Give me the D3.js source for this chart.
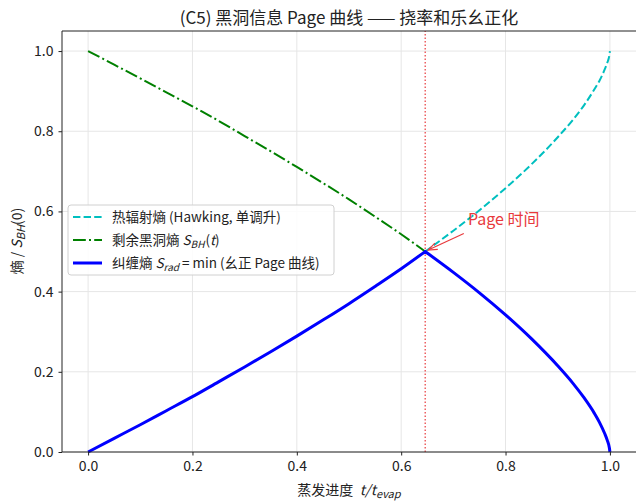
<!DOCTYPE html>
<html><head><meta charset="utf-8">
<script src="https://cdn.jsdelivr.net/npm/d3@7"></script>
<style>body{margin:0;background:#fff}svg{display:block;font-family:"Noto Sans CJK SC","Noto Sans",sans-serif}svg text{white-space:pre}</style>
</head><body>
<script>
// Data
const tRise = [0,0.05,0.1,0.15,0.2,0.25,0.3,0.35,0.4,0.45,0.5,0.55,0.6,0.646];
const remainingBH = [1,0.966,0.932,0.897,0.862,0.826,0.788,0.750,0.711,0.671,0.630,0.587,0.543,0.500];
const entRise = [0,0.034,0.068,0.103,0.138,0.175,0.212,0.250,0.289,0.329,0.370,0.413,0.457,0.500];
const tFall = [0.646,0.7,0.75,0.8,0.85,0.9,0.93,0.95,0.97,0.98,0.99,0.995,0.999,1.0];
const hawking = [0.500,0.552,0.603,0.658,0.718,0.785,0.830,0.864,0.904,0.926,0.954,0.971,0.990,1.0];
const entFall = [0.500,0.448,0.397,0.342,0.282,0.215,0.170,0.136,0.097,0.074,0.046,0.029,0.010,0];
const pageTime = 0.646;
const xTicks = [0,0.2,0.4,0.6,0.8,1.0];
const yTicks = [0,0.2,0.4,0.6,0.8,1.0];

const W=636,H=504;
const m={l:62,r:0,t:31,b:52};
const FF="'Noto Sans CJK SC','Noto Sans',sans-serif";
const svg=d3.select("body").append("svg").attr("width",W).attr("height",H);
const x=d3.scaleLinear().domain([-0.05,1.05]).range([m.l,W-m.r]);
const y=d3.scaleLinear().domain([0,1.05]).range([H-m.b,m.t]);

// grid
const g=svg.append("g");
g.selectAll(".gx").data(xTicks).join("line").attr("x1",d=>x(d)).attr("x2",d=>x(d)).attr("y1",y(0)).attr("y2",y(1.05)).attr("stroke","#e6e6e6").attr("stroke-width",1);
g.selectAll(".gy").data(yTicks).join("line").attr("y1",d=>y(d)).attr("y2",d=>y(d)).attr("x1",x(-0.05)).attr("x2",x(1.05)).attr("stroke","#e6e6e6").attr("stroke-width",1);

const line=d3.line().x(d=>x(d[0])).y(d=>y(d[1])).curve(d3.curveMonotoneX);
const zip=(a,b)=>a.map((v,i)=>[v,b[i]]);

// page time line
svg.append("line").attr("x1",x(pageTime)).attr("x2",x(pageTime)).attr("y1",y(0)).attr("y2",y(1.05)).attr("stroke","#e8393c").attr("stroke-width",1.2).attr("stroke-dasharray","1.5,2");

svg.append("path").attr("d",line(zip(tFall,hawking))).attr("fill","none").attr("stroke","#00bfbf").attr("stroke-width",2).attr("stroke-dasharray","7.4,3.2");
svg.append("path").attr("d",line(zip(tRise,remainingBH))).attr("fill","none").attr("stroke","#008000").attr("stroke-width",2).attr("stroke-dasharray","12.8,3.2,2,3.2");
const pRise=line(zip(tRise,entRise));
const pFall=line(zip(tFall,entFall)).replace(/^M/,"L");
svg.append("path").attr("d",pRise+pFall).attr("fill","none").attr("stroke","#0000ff").attr("stroke-width",3).attr("stroke-linejoin","miter");

// spines
svg.append("line").attr("x1",m.l).attr("x2",m.l).attr("y1",m.t).attr("y2",H-m.b).attr("stroke","#222").attr("stroke-width",1);
svg.append("line").attr("x1",m.l).attr("x2",W).attr("y1",H-m.b).attr("y2",H-m.b).attr("stroke","#222").attr("stroke-width",1);
svg.append("line").attr("x1",m.l).attr("x2",W).attr("y1",m.t).attr("y2",m.t).attr("stroke","#222").attr("stroke-width",1);

// axes
const xa=svg.append("g").attr("transform",`translate(0,${H-m.b})`).call(d3.axisBottom(x).tickValues(xTicks).tickFormat(d3.format(".1f")).tickSizeOuter(0).tickSize(3.5).tickPadding(6));
const ya=svg.append("g").attr("transform",`translate(${m.l},0)`).call(d3.axisLeft(y).tickValues(yTicks).tickFormat(d3.format(".1f")).tickSizeOuter(0).tickSize(3.5).tickPadding(5));
[xa,ya].forEach(a=>{a.select(".domain").remove();a.selectAll("text").attr("font-size",14).attr("fill","#222").style("font-family",FF);a.selectAll("line").attr("stroke","#222");});

// title
svg.append("text").attr("x",349).attr("y",24).attr("text-anchor","middle").attr("font-size",17).attr("fill","#222").text("(C5) 黑洞信息 Page 曲线 —— 挠率和乐幺正化");

// x label
const xl=svg.append("text").attr("x",349).attr("y",495).attr("text-anchor","middle").attr("font-size",14).attr("fill","#222");
xl.append("tspan").text("蒸发进度  ");
xl.append("tspan").attr("font-style","italic").text("t/t");
xl.append("tspan").attr("font-style","italic").attr("font-size",11).attr("dy",3).text("evap");

// y label
const yl=svg.append("text").attr("transform","translate(22,241) rotate(-90)").attr("text-anchor","middle").attr("font-size",14).attr("fill","#222");
yl.append("tspan").text("熵 / ");
yl.append("tspan").attr("font-style","italic").text("S");
yl.append("tspan").attr("font-style","italic").attr("font-size",11).attr("dy",3).text("BH");
yl.append("tspan").attr("dy",-3).text("(0)");

// annotation
const px=x(pageTime),py=y(0.5);
svg.append("text").attr("x",x(0.728)).attr("y",y(0.565)).attr("font-size",16).attr("fill","#e8393c").text("Page 时间");
const sx=x(0.72),sy=y(0.545);
const hx=px+3,hy=py-1.5;
svg.append("line").attr("x1",sx).attr("y1",sy).attr("x2",hx).attr("y2",hy).attr("stroke","#e8393c").attr("stroke-width",1.2);
const ang=Math.atan2(hy-sy,hx-sx);
const ah=9,aw=3.5;
svg.append("path").attr("d",`M${hx-ah*Math.cos(ang)+aw*Math.sin(ang)},${hy-ah*Math.sin(ang)-aw*Math.cos(ang)} L${hx},${hy} L${hx-ah*Math.cos(ang)-aw*Math.sin(ang)},${hy-ah*Math.sin(ang)+aw*Math.cos(ang)}`).attr("fill","none").attr("stroke","#e8393c").attr("stroke-width",1.2);

// legend
const lg=svg.append("g");
lg.append("rect").attr("x",68).attr("y",205).attr("width",266).attr("height",70).attr("rx",3).attr("fill","rgba(255,255,255,0.85)").attr("stroke","#d0d0d0");
const items=[
 {c:"#00bfbf",w:2,da:"7.4,3.2"},
 {c:"#008000",w:2,da:"12.8,3.2,2,3.2"},
 {c:"#0000ff",w:3,da:null}];
const ly=[217,240,263];
items.forEach((it,i)=>{
 const l=lg.append("line").attr("x1",73).attr("x2",102).attr("y1",ly[i]).attr("y2",ly[i]).attr("stroke",it.c).attr("stroke-width",it.w);
 if(it.da) l.attr("stroke-dasharray",it.da);
});
const fs=13.5;
lg.append("text").attr("x",112).attr("y",ly[0]+5).attr("font-size",fs).attr("fill","#222").text("热辐射熵 (Hawking, 单调升)");
const t2=lg.append("text").attr("x",112).attr("y",ly[1]+5).attr("font-size",fs).attr("fill","#222");
t2.append("tspan").text("剩余黑洞熵 ");
t2.append("tspan").attr("font-style","italic").text("S");
t2.append("tspan").attr("font-style","italic").attr("font-size",10).attr("dy",3).text("BH");
t2.append("tspan").attr("dy",-3).attr("dx",1).text("(");
t2.append("tspan").attr("font-style","italic").text("t");
t2.append("tspan").text(")");
const t3=lg.append("text").attr("x",112).attr("y",ly[2]+5).attr("font-size",fs).attr("fill","#222");
t3.append("tspan").text("纠缠熵 ");
t3.append("tspan").attr("font-style","italic").text("S");
t3.append("tspan").attr("font-style","italic").attr("font-size",10).attr("dy",3).text("rad");
t3.append("tspan").attr("dy",-3).attr("dx",3).text("= min (幺正 Page 曲线)");
</script>
</body></html>
